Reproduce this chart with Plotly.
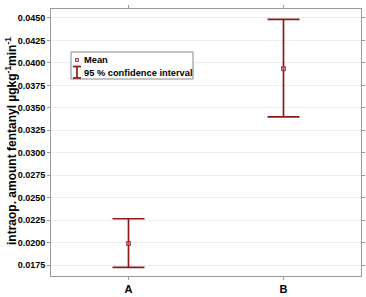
import plotly.graph_objects as go

categories = ["A", "B"]
means = [0.0199, 0.03935]
upper = [0.02265, 0.04485]
lower = [0.01725, 0.0340]
tick_vals = [0.0175, 0.0200, 0.0225, 0.0250, 0.0275, 0.0300, 0.0325, 0.0350,
             0.0375, 0.0400, 0.0425, 0.0450]
y_title = "intraop. amount fentanyl µgkg<sup>-1</sup>min<sup>-1</sup>"

W, H = 366, 297
ML, MR, MT, MB = 51, 5, 9, 21
PW, PH = W - ML - MR, H - MT - MB

def px(x):
    return (x - ML) / PW

def py(y):
    return (H - MB - y) / PH

RED = "#8b1a1a"
FONT = "Liberation Sans, Arial, sans-serif"

fig = go.Figure()
fig.add_trace(go.Scatter(
    x=categories, y=means, mode="markers",
    marker=dict(symbol="square", size=4, color="rgba(190,110,110,0.7)",
                line=dict(color="rgba(139,26,26,0.7)", width=1)),
    error_y=dict(type="data", symmetric=False,
                 array=[u - m for u, m in zip(upper, means)],
                 arrayminus=[m - l for m, l in zip(means, lower)],
                 color=RED, thickness=1.7, width=16),
    showlegend=False, cliponaxis=False,
))

# custom legend
shapes = [
    dict(type="rect", xref="paper", yref="paper", x0=px(71), x1=px(193),
         y0=py(79), y1=py(52), line=dict(color="#888888", width=1),
         fillcolor="white", layer="above"),
    dict(type="rect", xref="paper", yref="paper", x0=px(75.5), x1=px(78.5),
         y0=py(61.5), y1=py(58.5), line=dict(color="rgba(139,26,26,0.8)", width=1),
         fillcolor="rgba(190,110,110,0.4)", layer="above"),
    dict(type="line", xref="paper", yref="paper", x0=px(77), x1=px(77),
         y0=py(78), y1=py(66.5), line=dict(color=RED, width=1.7), layer="above"),
    dict(type="line", xref="paper", yref="paper", x0=px(73), x1=px(81),
         y0=py(66.5), y1=py(66.5), line=dict(color=RED, width=1.7), layer="above"),
    dict(type="line", xref="paper", yref="paper", x0=px(73), x1=px(81),
         y0=py(78), y1=py(78), line=dict(color=RED, width=1.7), layer="above"),
]
annotations = [
    dict(text="Mean", xref="paper", yref="paper", x=px(82), y=py(60),
         xanchor="left", yanchor="middle", showarrow=False,
         font=dict(family=FONT, size=9.3, color="black", weight="bold")),
    dict(text="95 % confidence interval", xref="paper", yref="paper", x=px(82),
         y=py(72.5), xanchor="left", yanchor="middle", showarrow=False,
         font=dict(family=FONT, size=9.3, color="black", weight="bold")),
    dict(text=y_title, xref="paper", yref="paper", x=px(11), y=py(141),
         xanchor="center", yanchor="middle", textangle=-90, showarrow=False,
         font=dict(family=FONT, size=12, color="black", weight="bold")),
]

fig.update_layout(
    width=W, height=H, margin=dict(l=ML, r=MR, t=MT, b=MB),
    paper_bgcolor="white", plot_bgcolor="white",
    shapes=shapes, annotations=annotations,
    xaxis=dict(type="category", range=[-0.5, 1.5], showgrid=False, automargin=False,
               showline=True, linecolor="#999999", linewidth=1, mirror="ticks",
               ticks="outside", ticklen=3, tickcolor="#999999",
               tickfont=dict(family=FONT, size=11, color="black", weight="bold")),
    yaxis=dict(range=[0.01628, 0.0460], tickvals=tick_vals, tickformat=".4f",
               automargin=False,
               showgrid=True, gridcolor="#eeeeee", gridwidth=1, zeroline=False,
               showline=True, linecolor="#999999", linewidth=1, mirror="ticks",
               ticks="outside", ticklen=3, tickcolor="#999999",
               tickfont=dict(family=FONT, size=9, color="black", weight="bold")),
)

fig.write_html("out.html", config={"displayModeBar": False},
               post_script="document.body.style.margin='0';document.body.style.overflow='hidden';")
